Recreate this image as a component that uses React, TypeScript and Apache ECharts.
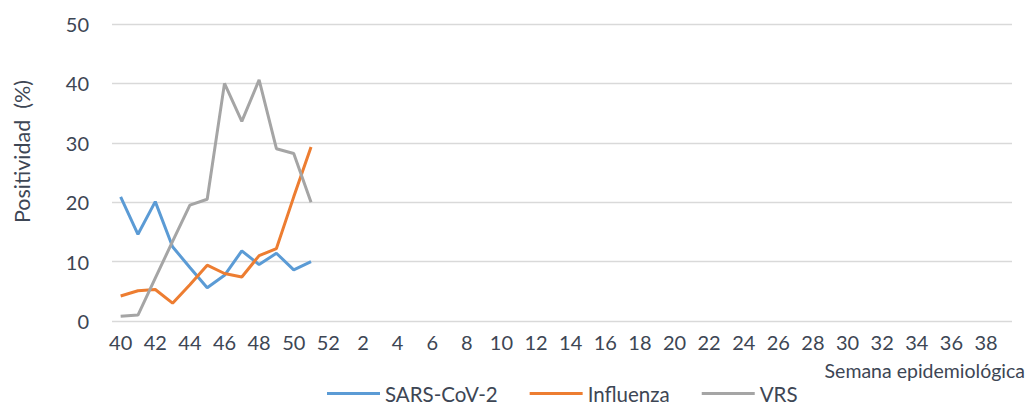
import React, { useEffect, useRef } from "react";
import * as echarts from "echarts";

const weeks: string[] = [
  "40","41","42","43","44","45","46","47","48","49","50","51","52",
  "1","2","3","4","5","6","7","8","9","10","11","12","13","14","15","16","17","18","19","20",
  "21","22","23","24","25","26","27","28","29","30","31","32","33","34","35","36","37","38","39",
];
const sarsCov2: number[] = [20.9, 14.6, 20.1, 12.5, 9.0, 5.6, 7.7, 11.8, 9.5, 11.4, 8.6, 10.0];
const influenza: number[] = [4.2, 5.1, 5.3, 3.0, 6.1, 9.4, 8.0, 7.4, 11.0, 12.2, 20.9, 29.3];
const vrs: number[] = [0.8, 1.0, 7.2, 13.4, 19.5, 20.5, 40.0, 33.6, 40.6, 29.0, 28.2, 20.0];
const yTicks = { min: 0, max: 50, interval: 10 };

const FONT = "Lato, 'Noto Sans', sans-serif";
const TEXT = "#3d4654";

export default function App() {
  const ref = useRef<HTMLDivElement>(null);
  useEffect(() => {
    if (!ref.current) return;
    const chart = echarts.init(ref.current, undefined, { renderer: "svg" });
    const mk = (name: string, data: number[], color: string) => ({
      name,
      type: "line",
      data,
      symbol: "none",
      showSymbol: false,
      lineStyle: { color, width: 3 },
      itemStyle: { color },
    });
    chart.setOption({
      animation: false,
      textStyle: { fontFamily: FONT },
      grid: { left: 112, right: 17, top: 24, bottom: 84 },
      xAxis: {
        type: "category",
        data: weeks,
        boundaryGap: true,
        axisLine: { show: false },
        axisTick: { show: false },
        axisLabel: { interval: 1, color: TEXT, fontSize: 20, fontFamily: FONT, margin: 11 },
      },
      yAxis: {
        type: "value",
        min: yTicks.min,
        max: yTicks.max,
        interval: yTicks.interval,
        axisLine: { show: false },
        axisTick: { show: false },
        axisLabel: { color: TEXT, fontSize: 20, fontFamily: FONT, margin: 23 },
        splitLine: { lineStyle: { color: "#d9d9d9", width: 1.3 } },
      },
      legend: {
        left: 327,
        top: 383,
        padding: 0,
        itemWidth: 53,
        itemHeight: 3,
        itemGap: 32,
        icon: "rect",
        textStyle: { color: TEXT, fontSize: 20.5, fontFamily: FONT },
        data: ["SARS-CoV-2", "Influenza", "VRS"],
      },
      graphic: [
        {
          type: "text",
          right: 4,
          top: 360,
          style: { text: "Semana epidemiológica", fill: TEXT, fontSize: 19.5, fontFamily: FONT },
        },
        {
          type: "text",
          x: 21.5,
          y: 151.5,
          rotation: Math.PI / 2,
          style: {
            text: "Positividad  (%)",
            fill: TEXT,
            fontSize: 21.5,
            fontFamily: FONT,
            align: "center",
            verticalAlign: "middle",
          },
        },
      ],
      series: [
        mk("SARS-CoV-2", sarsCov2, "#5b9bd5"),
        mk("Influenza", influenza, "#ed7d31"),
        mk("VRS", vrs, "#a5a5a5"),
      ],
    });
    return () => chart.dispose();
  }, []);
  return (
    <div
      ref={ref}
      style={{ position: "fixed", left: 0, top: 0, width: 1029, height: 405, background: "#fff" }}
    />
  );
}
